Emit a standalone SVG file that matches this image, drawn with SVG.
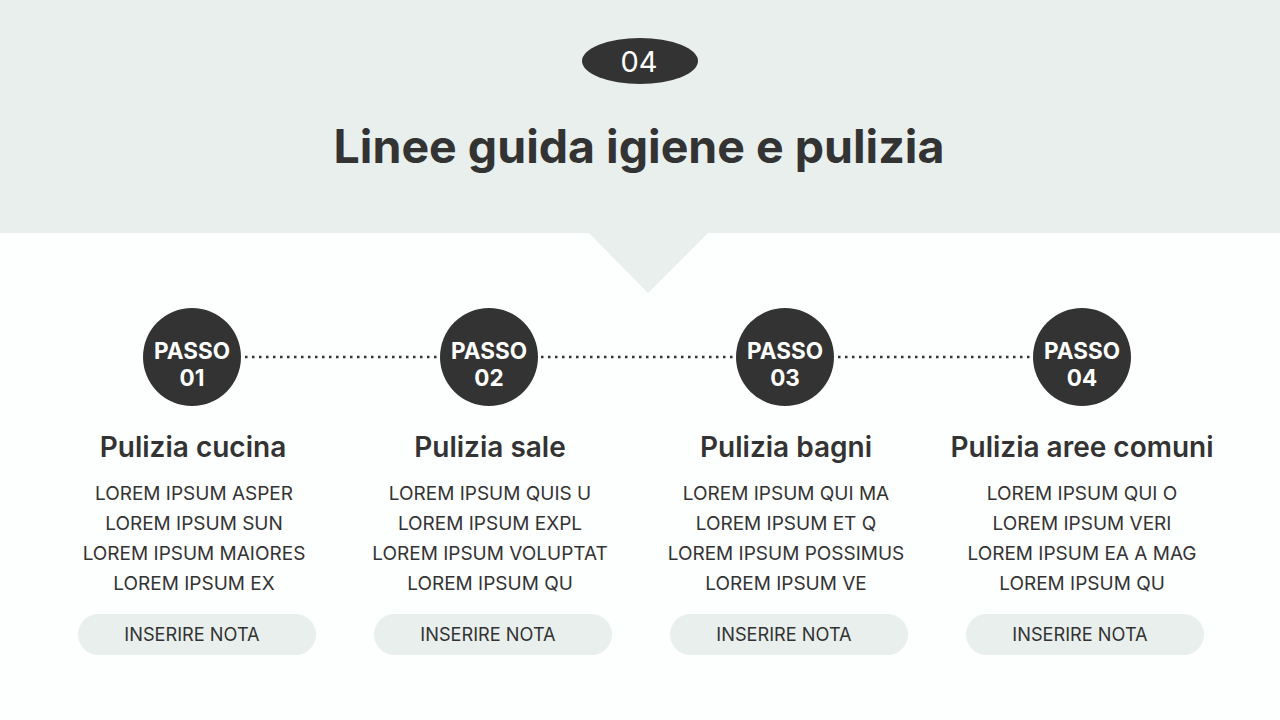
<svg xmlns="http://www.w3.org/2000/svg" width="1280" height="720" viewBox="0 0 1280 720">
<style>
.bg{fill:#fdfefe}
.band{fill:#e8efed}
.dark{fill:#333333}
.title{font-family:Inter,"Liberation Sans",sans-serif;font-weight:700;font-size:46.5px;fill:#333333;text-anchor:middle}
.num{font-family:Inter,"Liberation Sans",sans-serif;font-weight:400;font-size:29px;fill:#ffffff;text-anchor:middle}
.step{font-family:Inter,"Liberation Sans",sans-serif;font-weight:700;font-size:22.5px;fill:#ffffff;text-anchor:middle}
.head{font-family:Inter,"Liberation Sans",sans-serif;font-weight:600;font-size:28px;fill:#333333;text-anchor:middle}
.body{font-family:Inter,"Liberation Sans",sans-serif;font-weight:400;font-size:19px;fill:#333333;text-anchor:middle}
.pill{fill:#e8efed}
.note{font-family:Inter,"Liberation Sans",sans-serif;font-weight:400;font-size:18.2px;fill:#333333;text-anchor:middle}
.dots{stroke:#333333;stroke-width:2.5;stroke-dasharray:2.5 4.5;fill:none}
</style>
<rect class="bg" x="0" y="0" width="1280" height="720"/>
<g id="header">
<rect class="band" x="0" y="0" width="1280" height="233"/>
<polygon class="band" points="589,233 708,233 648,293"/>
<ellipse class="dark" cx="640" cy="61" rx="58" ry="23"/>
<text class="num" x="639" y="72">04</text>
<text class="title" x="639" y="163">Linee guida igiene e pulizia</text>
</g>
<g id="connectors">
<line class="dots" x1="245" y1="357" x2="437" y2="357"/>
<line class="dots" x1="541" y1="357" x2="733" y2="357"/>
<line class="dots" x1="838" y1="357" x2="1030" y2="357"/>
</g>
<g id="step1">
<circle class="dark" cx="192" cy="357" r="49"/>
<text class="step" x="192" y="359">PASSO</text>
<text class="step" x="192" y="386">01</text>
<text class="head" x="193" y="457">Pulizia cucina</text>
<text class="body" x="194" y="500">LOREM IPSUM ASPER</text>
<text class="body" x="194" y="530">LOREM IPSUM SUN</text>
<text class="body" x="194" y="560">LOREM IPSUM MAIORES</text>
<text class="body" x="194" y="590">LOREM IPSUM EX</text>
<rect class="pill" x="78" y="614" width="238" height="41" rx="20.5"/>
<text class="note" x="192" y="641">INSERIRE NOTA</text>
</g>
<g id="step2">
<circle class="dark" cx="489" cy="357" r="49"/>
<text class="step" x="489" y="359">PASSO</text>
<text class="step" x="489" y="386">02</text>
<text class="head" x="490" y="457">Pulizia sale</text>
<text class="body" x="490" y="500">LOREM IPSUM QUIS U</text>
<text class="body" x="490" y="530">LOREM IPSUM EXPL</text>
<text class="body" x="490" y="560">LOREM IPSUM VOLUPTAT</text>
<text class="body" x="490" y="590">LOREM IPSUM QU</text>
<rect class="pill" x="374" y="614" width="238" height="41" rx="20.5"/>
<text class="note" x="488" y="641">INSERIRE NOTA</text>
</g>
<g id="step3">
<circle class="dark" cx="785" cy="357" r="49"/>
<text class="step" x="785" y="359">PASSO</text>
<text class="step" x="785" y="386">03</text>
<text class="head" x="786" y="457">Pulizia bagni</text>
<text class="body" x="786" y="500">LOREM IPSUM QUI MA</text>
<text class="body" x="786" y="530">LOREM IPSUM ET Q</text>
<text class="body" x="786" y="560">LOREM IPSUM POSSIMUS</text>
<text class="body" x="786" y="590">LOREM IPSUM VE</text>
<rect class="pill" x="670" y="614" width="238" height="41" rx="20.5"/>
<text class="note" x="784" y="641">INSERIRE NOTA</text>
</g>
<g id="step4">
<circle class="dark" cx="1082" cy="357" r="49"/>
<text class="step" x="1082" y="359">PASSO</text>
<text class="step" x="1082" y="386">04</text>
<text class="head" x="1082" y="457">Pulizia aree comuni</text>
<text class="body" x="1082" y="500">LOREM IPSUM QUI O</text>
<text class="body" x="1082" y="530">LOREM IPSUM VERI</text>
<text class="body" x="1082" y="560">LOREM IPSUM EA A MAG</text>
<text class="body" x="1082" y="590">LOREM IPSUM QU</text>
<rect class="pill" x="966" y="614" width="238" height="41" rx="20.5"/>
<text class="note" x="1080" y="641">INSERIRE NOTA</text>
</g>
</svg>
